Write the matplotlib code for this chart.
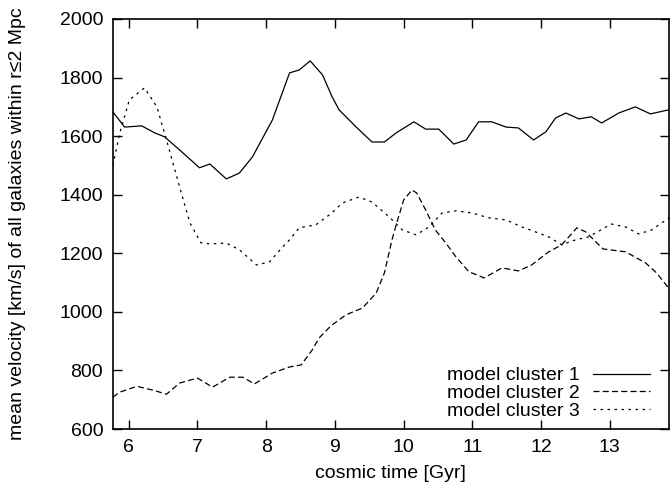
import matplotlib
matplotlib.use("Agg")
import matplotlib.pyplot as plt

plt.rcParams['font.family'] = ['Liberation Sans', 'DejaVu Sans']
plt.rcParams['font.size'] = 14

# cosmic time [Gyr] and mean velocity [km/s]
t1 = [5.77, 5.94, 6.19, 6.38, 6.52, 6.74, 7.03, 7.18, 7.42, 7.61, 7.80, 8.09,
      8.34, 8.48, 8.64, 8.82, 8.96, 9.06, 9.31, 9.54, 9.72, 9.89, 10.15, 10.32,
      10.51, 10.73, 10.91, 11.09, 11.28, 11.49, 11.67, 11.89, 12.07, 12.21,
      12.36, 12.55, 12.73, 12.88, 13.13, 13.37, 13.59, 13.86]
v1 = [1683, 1631, 1635, 1611, 1598, 1553, 1492, 1505, 1454, 1474, 1529, 1655,
      1816, 1826, 1857, 1809, 1734, 1690, 1631, 1580, 1580, 1611, 1649, 1624,
      1624, 1573, 1587, 1649, 1649, 1631, 1628, 1587, 1615, 1662,
      1679, 1659, 1666, 1645, 1679, 1700, 1676, 1690]

t2 = [5.77, 5.87, 6.12, 6.35, 6.55, 6.74, 7.00, 7.22, 7.47, 7.66, 7.83, 8.09,
      8.34, 8.51, 8.67, 8.77, 8.94, 9.16, 9.40, 9.60, 9.72, 9.83, 9.90, 10.00,
      10.12, 10.19, 10.32, 10.46, 10.63, 10.76, 10.95, 11.17, 11.43, 11.67,
      11.86, 12.11, 12.30, 12.52, 12.65, 12.90, 13.23, 13.52, 13.68, 13.86]
v2 = [709, 726, 746, 733, 719, 757, 774, 743, 777, 777, 754, 791,
      812, 819, 870, 911, 952, 990, 1013, 1064, 1133, 1246, 1304, 1382,
      1416, 1406, 1348, 1280, 1230, 1188, 1137, 1116, 1150, 1140,
      1160, 1205, 1229, 1287, 1273, 1215, 1205, 1167, 1133, 1080]

t3 = [5.77, 5.87, 6.01, 6.23, 6.41, 6.55, 6.74, 6.89, 7.05, 7.18, 7.42, 7.61,
      7.86, 8.05, 8.24, 8.34, 8.48, 8.72, 8.94, 9.11, 9.35, 9.54, 9.79, 9.98,
      10.18, 10.37, 10.56, 10.76, 10.99, 11.24, 11.49, 11.72, 11.92, 12.11,
      12.30, 12.50, 12.69, 13.02, 13.23, 13.42, 13.61, 13.86]
v3 = [1500, 1611, 1724, 1765, 1700, 1587, 1427, 1304, 1236, 1232, 1235, 1212,
      1160, 1171, 1222, 1246, 1287, 1297, 1335, 1372, 1392, 1375, 1324, 1280,
      1263, 1290, 1338, 1345, 1338, 1321, 1314, 1290, 1273, 1256,
      1229, 1246, 1256, 1300, 1290, 1266, 1280, 1321]

labels = ['model cluster 1', 'model cluster 2', 'model cluster 3']
xticks = [6, 7, 8, 9, 10, 11, 12, 13]
yticks = [600, 800, 1000, 1200, 1400, 1600, 1800, 2000]

fig = plt.figure(figsize=(6.72, 4.87), dpi=100)
ax = fig.add_axes([0.168, 0.119, 0.8275, 0.842])

lw = 0.9
ax.plot(t1, v1, color='black', lw=lw, label=labels[0])
ax.plot(t2, v2, color='black', lw=lw, dashes=(4.8, 2.6), label=labels[1])
ax.plot(t3, v3, color='black', lw=lw, dashes=(2.0, 3.6), label=labels[2])

ax.set_xlim(5.77, 13.86)
ax.set_ylim(600, 2000)
ax.set_xticks(xticks)
ax.set_yticks(yticks)
ax.tick_params(direction='in', length=6.5, width=1.0, top=True, right=True, pad=7)
for s in ax.spines.values():
    s.set_linewidth(1.2)

ax.set_xlabel('cosmic time [Gyr]', labelpad=7)
ax.set_ylabel('mean velocity [km/s] of all galaxies within r\u22642 Mpc', labelpad=24)

ax.legend(loc='lower right', markerfirst=False, frameon=False, handlelength=2.9,
          handletextpad=0.7, labelspacing=0.0, borderaxespad=0.3,
          bbox_to_anchor=(0.99, -0.01))

fig.savefig('out.png', dpi=100)
